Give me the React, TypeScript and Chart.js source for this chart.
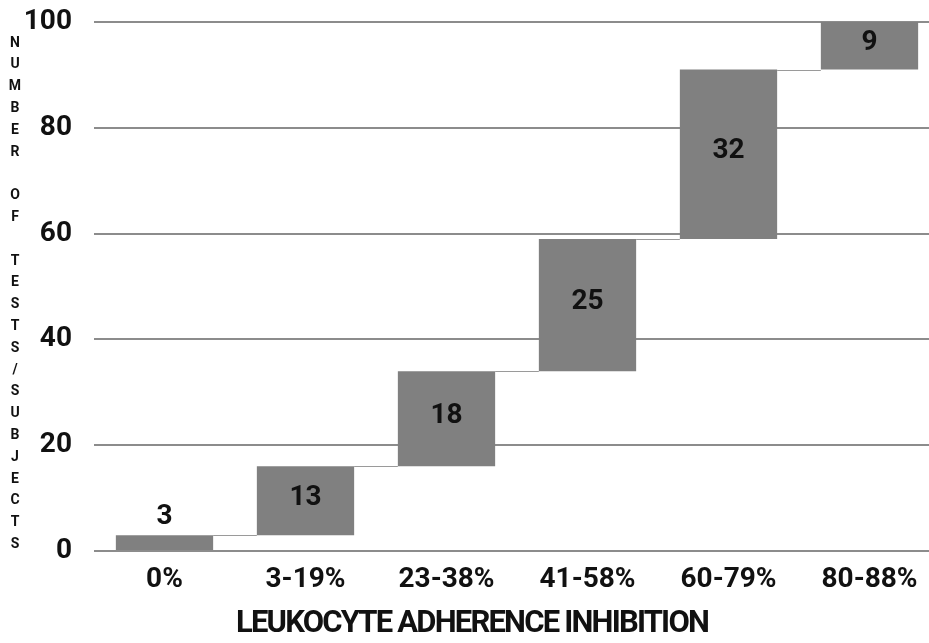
import React, { useEffect, useRef } from "react";
import { Chart, registerables } from "chart.js";

Chart.register(...registerables);

const categories = ["0%", "3-19%", "23-38%", "41-58%", "60-79%", "80-88%"];
const increments = [3, 13, 18, 25, 32, 9];
const yTicks = [0, 20, 40, 60, 80, 100];
const yTitle = "NUMBER OF TESTS/SUBJECTS";
const xTitle = "LEUKOCYTE ADHERENCE INHIBITION";

const FONT = "Roboto, 'Liberation Sans', sans-serif";

export default function App() {
  const ref = useRef<HTMLCanvasElement | null>(null);

  useEffect(() => {
    if (!ref.current) return;
    const ranges: [number, number][] = [];
    let acc = 0;
    increments.forEach((v) => {
      ranges.push([acc, acc + v]);
      acc += v;
    });

    const overlay = {
      id: "overlay",
      afterDatasetsDraw(chart: any) {
        const ctx = chart.ctx;
        const meta = chart.getDatasetMeta(0);
        const y = chart.scales.y;
        ctx.save();
        ctx.strokeStyle = "#9a9a9a";
        ctx.lineWidth = 1;
        for (let i = 0; i < meta.data.length - 1; i++) {
          const a = meta.data[i];
          const b = meta.data[i + 1];
          const yy = Math.round(y.getPixelForValue(ranges[i][1])) + 0.5;
          ctx.beginPath();
          ctx.moveTo(a.x + a.width / 2, yy);
          ctx.lineTo(b.x - b.width / 2, yy);
          ctx.stroke();
        }
        ctx.fillStyle = "#111";
        ctx.font = `bold 28px ${FONT}`;
        ctx.textAlign = "center";
        ctx.textBaseline = "middle";
        meta.data.forEach((bar: any, i: number) => {
          const top = y.getPixelForValue(ranges[i][1]);
          const bot = y.getPixelForValue(ranges[i][0]);
          const h = bot - top;
          const cy = h < 34 ? top - 18 : (top + bot) / 2 - 3;
          ctx.fillText(String(increments[i]), bar.x, cy);
        });
        ctx.restore();
      },
      afterDraw(chart: any) {
        const ctx = chart.ctx;
        ctx.save();
        ctx.fillStyle = "#111";
        ctx.textAlign = "center";
        ctx.textBaseline = "middle";
        ctx.font = `bold 14px ${FONT}`;
        const letters = yTitle.split("");
        letters.forEach((ch, i) => {
          if (ch !== " ") ctx.fillText(ch, 15, 43 + i * 21.8);
        });
        ctx.font = `bold 31px ${FONT}`;
        (ctx as any).letterSpacing = "-1.8px";
        ctx.fillText(xTitle, 472, 624);
        ctx.restore();
      },
    };

    const chart = new Chart(ref.current, {
      type: "bar",
      data: {
        labels: categories,
        datasets: [
          {
            data: ranges as any,
            backgroundColor: "#808080",
            borderWidth: 0,
            barPercentage: 0.69,
            categoryPercentage: 1,
          },
        ],
      },
      options: {
        responsive: false,
        animation: false,
        events: [],
        layout: { padding: { top: 22, left: 0, right: 0, bottom: 0 } },
        plugins: {
          legend: { display: false },
          tooltip: { enabled: false },
        },
        scales: {
          x: {
            grid: { display: false, drawTicks: false },
            border: { display: false },
            ticks: {
              color: "#111",
              font: { family: FONT, size: 28, weight: "bold" },
              padding: 12,
              maxRotation: 0,
            },
            afterFit: (s: any) => {
              s.height = 643 - 551;
              s.paddingLeft = 0;
              s.paddingRight = 0;
            },
          },
          y: {
            min: 0,
            max: 100,
            afterBuildTicks: (s: any) => {
              s.ticks = yTicks.map((v) => ({ value: v }));
            },
            grid: { color: "#8c8c8c", lineWidth: 2, drawTicks: false },
            border: { display: false },
            ticks: {
              color: "#111",
              font: { family: FONT, size: 28, weight: "bold" },
              padding: 22,
            },
            afterFit: (s: any) => {
              s.width = 94;
              s.paddingTop = 0;
              s.paddingBottom = 0;
            },
          },
        },
      },
      plugins: [overlay],
    });
    return () => chart.destroy();
  }, []);

  return (
    <div style={{ position: "fixed", left: 0, top: 0, width: 940, height: 643, background: "#fff" }}>
      <canvas ref={ref} width={940} height={643} style={{ display: "block" }} />
    </div>
  );
}
